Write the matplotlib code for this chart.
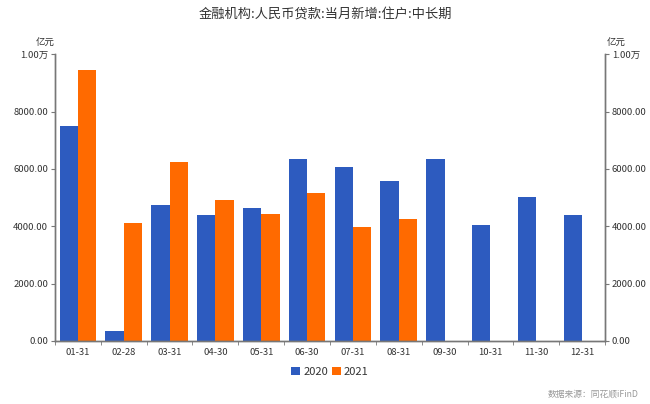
import matplotlib.pyplot as plt
import numpy as np

plt.rcParams['font.family'] = ['Noto Sans CJK SC', 'DejaVu Sans']

# data
dates = ['01-31', '02-28', '03-31', '04-30', '05-31', '06-30',
         '07-31', '08-31', '09-30', '10-31', '11-30', '12-31']
v2020 = [7480, 348, 4728, 4380, 4648, 6355, 6068, 5565, 6355, 4042, 5031, 4380]
v2021 = [9456, 4101, 6226, 4903, 4425, 5146, 3961, 4240]
yticks = [0, 2000, 4000, 6000, 8000, 10000]
ytick_labels = ['0.00', '2000.00', '4000.00', '6000.00', '8000.00', '1.00万']

blue = '#2D5BBF'
orange = '#FF6A00'
gray = '#777777'
txt = '#333333'

fig = plt.figure(figsize=(6.5, 4.04), dpi=100)
ax = fig.add_axes([0.0846, 0.156, 0.8462, 0.710])

x = np.arange(len(dates))
w = 0.4
ax.bar(x[:len(v2020)] - w / 2, v2020, w, color=blue, label='2020')
ax.bar(x[:len(v2021)] + w / 2, v2021, w, color=orange, label='2021')

ax.set_xlim(-0.5, len(dates) - 0.5)
ax.set_ylim(0, 10000)
ax.set_xticks(x)
ax.set_xticklabels(dates, fontsize=6.8, color=txt)
ax.set_xticks(np.arange(-0.5, len(dates), 1), minor=True)
ax.tick_params(axis='x', which='major', length=0, pad=5)
ax.tick_params(axis='x', which='minor', length=3, color=gray)

ax.set_yticks(yticks)
ax.set_yticklabels(ytick_labels, fontsize=6.8, color=txt)
ax.tick_params(axis='y', length=3, color=gray, pad=2)

ax2 = ax.twinx()
ax2.set_ylim(0, 10000)
ax2.set_yticks(yticks)
ax2.set_yticklabels(ytick_labels, fontsize=6.8, color=txt)
ax2.tick_params(axis='y', length=3, color=gray, pad=2)

for a in (ax, ax2):
    a.spines['top'].set_visible(False)
    for s in ('left', 'right', 'bottom'):
        a.spines[s].set_color(gray)
        a.spines[s].set_linewidth(1)

fig.text(0.5, 0.963, '金融机构:人民币贷款:当月新增:住户:中长期', ha='center', va='center',
         fontsize=9.5, color=txt)
fig.text(0.07, 0.892, '亿元', ha='center', va='center', fontsize=6.8, color=txt)
fig.text(0.948, 0.892, '亿元', ha='center', va='center', fontsize=6.8, color=txt)

ax.legend(loc='upper center', bbox_to_anchor=(0.5, -0.055), ncol=2, frameon=False,
          fontsize=8, handlelength=0.8, handleheight=0.8, handletextpad=0.3,
          columnspacing=0.3, labelcolor=txt)

fig.text(0.982, 0.025, '数据来源：同花顺iFinD', ha='right', va='center',
         fontsize=6.3, color='#999999')

fig.savefig('out.png', dpi=100)
